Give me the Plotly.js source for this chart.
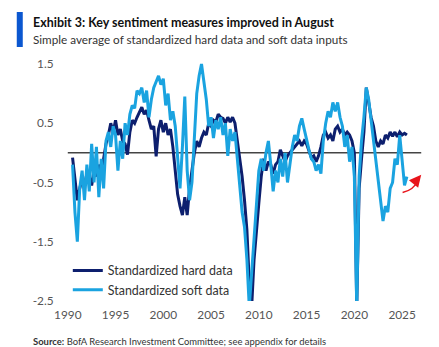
<!DOCTYPE html>
<html>
<head>
<meta charset="utf-8">
<script src="https://cdn.plot.ly/plotly-3.0.1.min.js"></script>
<style>html,body{margin:0;padding:0;background:#fff;}#chart{width:439px;height:347px;}</style>
</head>
<body>
<div id="chart"></div>
<script>
// Quarterly time points (decimal years)
const startYear = 1990.5;
const hardValues = [
  -0.08,-0.5,-0.8,-0.6,-0.45,-0.55,-0.35,-0.4,-0.55,-0.3,-0.4,-0.2,-0.35,-0.1,
  0.15,0.3,0.5,0.35,0.55,0.3,0.4,0.2,0.15,-0.03,0.35,0.55,
  0.5,0.6,0.7,0.77,0.65,0.72,0.55,0.4,0.45,-0.06,0.4,0.55,
  0.35,0.5,0.3,0.4,0.1,-0.3,-0.7,-0.9,-1.05,-0.75,-1.05,-0.6,
  -0.3,0.0,0.2,0.1,0.25,0.35,0.3,0.5,0.45,0.55,0.52,0.65,
  0.6,0.58,0.5,0.6,0.52,0.6,0.5,0.2,-0.1,-0.4,-0.8,-1.3,
  -2.2,-2.6,-1.8,-1.25,-0.85,-0.4,-0.1,-0.3,-0.15,-0.2,-0.35,-0.2,
  -0.15,0.05,-0.05,-0.15,-0.05,0.0,0.05,0.08,0.15,0.2,0.12,0.2,
  0.15,0.05,-0.08,-0.05,-0.15,-0.05,0.1,0.3,0.35,0.25,0.3,0.2,
  0.4,0.45,0.35,0.4,0.3,0.35,0.3,0.2,0.0,-2.6,-0.6,-0.1,
  0.35,1.1,0.85,0.6,0.45,0.2,0.1,0.2,0.15,0.3,0.25,0.35,
  0.28,0.35,0.27,0.35,0.3,0.33,0.3
];
const softValues = [
  -0.2,-1.0,-1.5,-0.6,-0.3,-0.8,-0.2,-0.65,0.15,-0.5,0.1,-0.75,-0.1,-0.6,
  0.2,0.35,0.1,0.45,0.3,-0.3,0.2,-0.1,0.5,0.3,0.65,0.8,
  0.75,1.05,1.0,1.1,0.85,1.05,0.6,0.9,1.1,1.2,1.3,1.15,
  1.25,0.8,1.0,0.55,0.7,0.45,-0.05,-0.6,0.1,0.95,-0.3,-0.8,
  -0.5,0.3,1.0,1.3,1.5,1.2,0.9,0.45,0.6,0.25,0.55,0.4,
  0.6,0.3,0.5,-0.05,0.4,0.2,0.35,-0.1,-0.6,-1.0,-1.25,-1.8,
  -2.6,-2.0,-1.4,-0.8,-0.3,-0.1,-0.3,0.0,0.2,-0.2,-0.65,-0.3,
  -0.5,-0.1,-0.4,0.0,-0.5,-0.2,0.1,0.3,0.2,0.45,0.58,0.4,
  0.2,0.05,-0.1,-0.15,-0.3,-0.2,-0.35,0.2,0.5,0.7,0.6,0.85,
  0.7,0.85,0.6,0.45,0.1,0.3,-0.15,0.1,-0.4,-2.6,-0.4,0.2,
  0.6,1.1,0.9,0.55,0.2,-0.1,-0.5,-0.9,-1.15,-0.9,-1.0,-0.6,
  -0.5,-0.1,-0.2,0.3,-0.2,-0.55,-0.4
];
const seriesNames = ["Standardized hard data", "Standardized soft data"];
const tickYears = [1990, 1995, 2000, 2005, 2010, 2015, 2020, 2025];
const yTickVals = [-2.5, -1.5, -0.5, 0.5, 1.5];
const yTickText = ["-2.5", "-1.5", "-0.5", "0.5", "1.5"];
const titleText = "Exhibit 3: Key sentiment measures improved in August";
const subtitleText = "Simple average of standardized hard data and soft data inputs";
const sourceLead = "Source:";
const sourceText = " BofA Research Investment Committee; see appendix for details";

const times = hardValues.map((_, i) => startYear + i * 0.25);

const FAM = "Lato";
const FONT = "Lato, 'Open Sans', sans-serif";
const cv = document.createElement('canvas').getContext('2d');
function w(text, size, weight) { cv.font = (weight || 'normal') + ' ' + size + 'px ' + FAM; return cv.measureText(text).width; }
function fit(text, target, weight) { return +(100 * target / w(text, 100, weight)).toFixed(2); }

const titleSize = fit(titleText, 302, 'bold');
const subSize = fit(subtitleText, 315);
const legSize = fit(seriesNames[0], 125);
const srcSize = +(100 * 294 / (w(sourceLead, 100, 'bold') + w(sourceText, 100))).toFixed(2);
const tickSize = fit("1990", 27.5);

const traces = [
  {x: times, y: hardValues, name: seriesNames[0], type: 'scatter', mode: 'lines',
   line: {color: '#0d1f6e', width: 3}},
  {x: times, y: softValues, name: seriesNames[1], type: 'scatter', mode: 'lines',
   line: {color: '#1aa3e0', width: 3}}
];

const L = 63.2, R = 425.9, T = 58, B = 301;
const W = R - L, H = B - T;
const px = v => (v - L) / W;
const py = v => (B - v) / H;

const layout = {
  width: 439, height: 347,
  margin: {l: L, r: 439 - R, t: T, b: 347 - B, pad: 0},
  paper_bgcolor: '#fff', plot_bgcolor: '#fff',
  font: {family: FONT, size: 13, color: '#444'},
  showlegend: true,
  legend: {x: px(68), y: py(256), xanchor: 'left', yanchor: 'top',
           bgcolor: 'rgba(0,0,0,0)', font: {family: FONT, size: legSize, color: '#333'},
           tracegroupgap: 0},
  xaxis: {range: [1989.5, 2027.5], tickvals: tickYears, ticktext: tickYears.map(String),
          showgrid: false, zeroline: false, showline: false,
          ticks: 'outside', ticklen: 3, tickcolor: 'rgba(0,0,0,0)',
          tickfont: {family: FONT, size: tickSize, color: '#555'}},
  yaxis: {range: [-2.5, 1.6], tickvals: yTickVals, ticktext: yTickText,
          showgrid: false, zeroline: false, showline: false,
          ticks: 'outside', ticklen: 6, tickcolor: 'rgba(0,0,0,0)',
          tickfont: {family: FONT, size: tickSize, color: '#555'}},
  shapes: [
    {type: 'line', xref: 'x', yref: 'y', x0: 1990, x1: 2027, y0: 0, y1: 0,
     line: {color: '#444', width: 1.5}, layer: 'below'},
    {type: 'rect', xref: 'paper', yref: 'paper', x0: px(17), x1: px(23), y0: py(47), y1: py(12),
     fillcolor: '#0b57d0', line: {width: 0}},
    {type: 'path', xref: 'x', yref: 'y',
     path: 'M 2025.05,-0.67 Q 2026.2,-0.63 2026.75,-0.45',
     line: {color: '#e8141b', width: 1.5}}
  ],
  annotations: [
    {xref: 'paper', yref: 'paper', x: px(31), y: py(22), xanchor: 'left', yanchor: 'middle',
     text: '<b>' + titleText + '</b>', showarrow: false,
     font: {family: FONT, size: titleSize, color: '#111'}},
    {xref: 'paper', yref: 'paper', x: px(31), y: py(39.5), xanchor: 'left', yanchor: 'middle',
     text: subtitleText, showarrow: false,
     font: {family: FONT, size: subSize, color: '#333'}},
    {xref: 'paper', yref: 'paper', x: px(31), y: py(341), xanchor: 'left', yanchor: 'middle',
     text: '<b>' + sourceLead + '</b>' + sourceText, showarrow: false,
     font: {family: FONT, size: srcSize, color: '#333'}},
    {xref: 'x', yref: 'y', x: 2027.0, y: -0.37, ax: -5, ay: 6, axref: 'pixel', ayref: 'pixel',
     showarrow: true, arrowhead: 2, arrowsize: 1.6, arrowwidth: 1.5, arrowcolor: '#e8141b', text: ''}
  ]
};

Plotly.newPlot('chart', traces, layout, {displayModeBar: false, staticPlot: true});
</script>
</body>
</html>
